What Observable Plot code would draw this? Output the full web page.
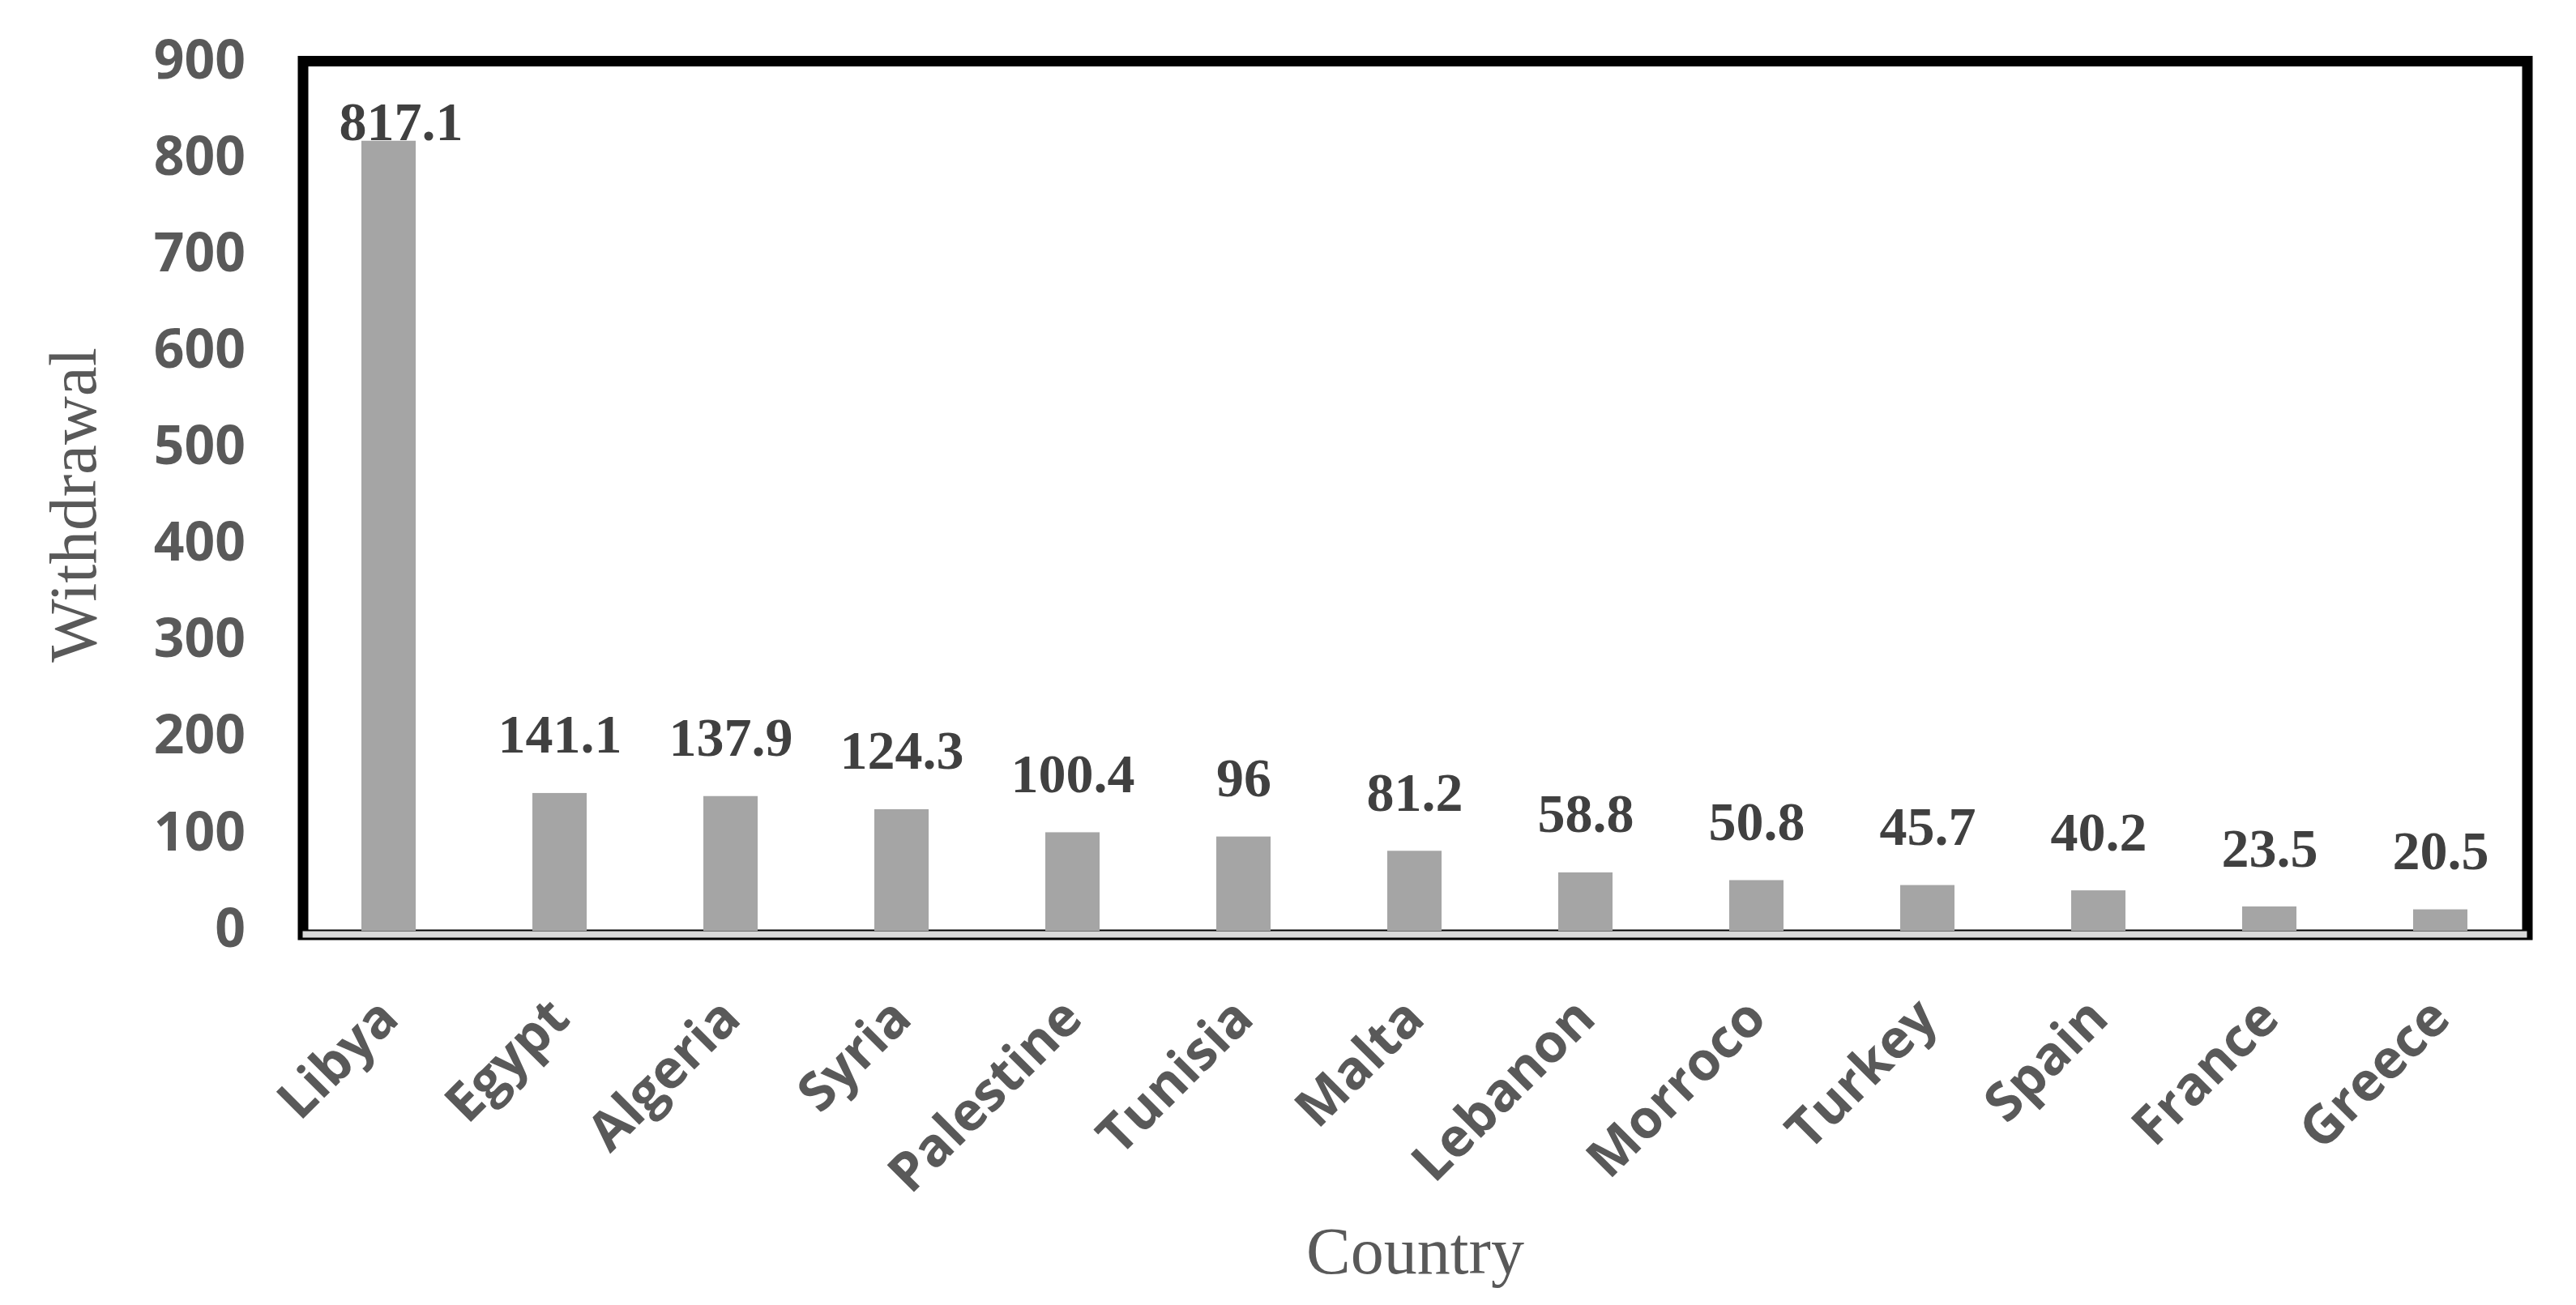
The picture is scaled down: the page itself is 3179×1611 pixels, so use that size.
<!DOCTYPE html>
<html>
<head>
<meta charset="utf-8">
<script src="https://cdn.jsdelivr.net/npm/d3@7"></script>
<script src="https://cdn.jsdelivr.net/npm/@observablehq/plot@0.6"></script>
<style>
  html, body { margin: 0; padding: 0; background: #ffffff; overflow: hidden; }
</style>
</head>
<body>
<div id="chart"></div>
<script>
const countries = ["Libya", "Egypt", "Algeria", "Syria", "Palestine", "Tunisia", "Malta", "Lebanon", "Morroco", "Turkey", "Spain", "France", "Greece"];
const withdrawal = [817.1, 141.1, 137.9, 124.3, 100.4, 96, 81.2, 58.8, 50.8, 45.7, 40.2, 23.5, 20.5];
const yTicks = [0, 100, 200, 300, 400, 500, 600, 700, 800, 900];
const xTitle = "Country";
const yTitle = "Withdrawal";

const data = countries.map((c, i) => ({country: c, value: withdrawal[i]}));

const tickFont = {fontFamily: "'Open Sans', sans-serif", fontWeight: 700, fontSize: 66, color: "#595959"};
const serif = "'Liberation Serif', 'Times New Roman', serif";

const chart = Plot.plot({
  width: 3179,
  height: 1611,
  marginLeft: 373.5,
  marginRight: 60.5,
  marginTop: 75,
  marginBottom: 464,
  style: {background: "#ffffff"},
  x: {type: "band", domain: countries, paddingInner: 0.682, paddingOuter: 0.341, axis: null},
  y: {domain: [0, 900], axis: null},
  marks: [
    Plot.frame({stroke: "#000000", strokeWidth: 13, insetBottom: -6.5}),
    Plot.ruleY([0], {stroke: "#d9d9d9", strokeWidth: 8, dy: 6}),
    Plot.barY(data, {x: "country", y: "value", fill: "#a5a5a5", insetBottom: -2}),
    Plot.text(data, {
      filter: d => d.value < 800,
      x: "country", y: "value", text: d => String(d.value),
      lineAnchor: "bottom", dy: -50,
      fontFamily: serif, fontWeight: 700, fontSize: 68, fill: "#404040"
    }),
    Plot.text(data, {
      filter: d => d.value >= 800,
      x: "country", y: "value", text: d => String(d.value),
      lineAnchor: "bottom", dy: -1, dx: 15,
      fontFamily: serif, fontWeight: 700, fontSize: 68, fill: "#404040"
    }),
    Plot.axisY(yTicks, {tickSize: 0, tickPadding: 71, label: null, ...tickFont}),
    Plot.axisX({tickRotate: -45, tickSize: 0, tickPadding: 98, label: null, ...tickFont}),
    Plot.text([xTitle], {
      text: d => d, frameAnchor: "bottom", textAnchor: "middle", lineAnchor: "bottom", dy: 424,
      fontFamily: serif, fontSize: 82, fill: "#595959"
    }),
    Plot.text([yTitle], {
      text: d => d, frameAnchor: "left", textAnchor: "middle", lineAnchor: "top", rotate: -90, dx: -315, dy: 12,
      fontFamily: serif, fontSize: 83, fill: "#595959"
    })
  ]
});
document.getElementById("chart").appendChild(chart);
</script>
</body>
</html>
